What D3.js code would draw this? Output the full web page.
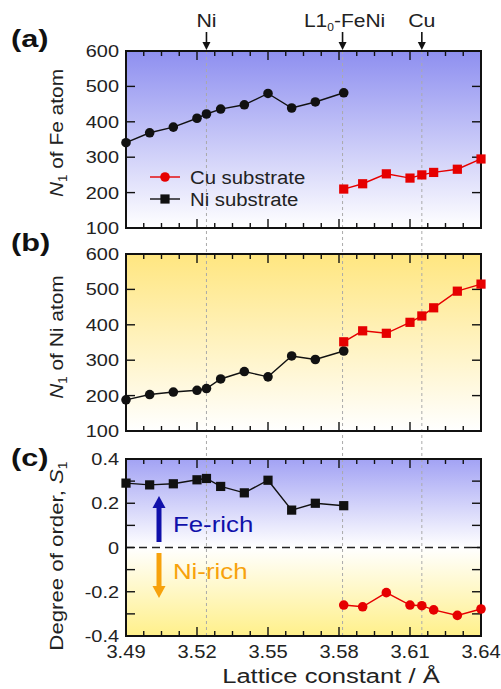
<!DOCTYPE html>
<html>
<head>
<meta charset="utf-8">
<script src="https://cdn.jsdelivr.net/npm/d3@7"></script>
<style>
  body { margin: 0; background: #fff; }
  text { font-family: "Liberation Sans", Arial, sans-serif; fill: #222; }
</style>
</head>
<body>
<div id="chart"></div>
<script>
var width = 501,
    height = 689,
    left = 126,
    right = 481

// lattice constants (Å)
var niSubX = [3.49, 3.50, 3.51, 3.52, 3.524, 3.53, 3.54, 3.55, 3.56, 3.57, 3.582]
var cuSubX = [3.582, 3.59, 3.60, 3.61, 3.615, 3.62, 3.63, 3.64]

// N1 of Fe atom
var niSubFe = [341, 369, 385, 410, 422, 436, 448, 480, 439, 456, 482]
var cuSubFe = [210, 225, 253, 241, 250, 257, 266, 295]

// N1 of Ni atom
var niSubNi = [188, 203, 210, 215, 220, 247, 268, 253, 312, 302, 326]
var cuSubNi = [352, 383, 376, 407, 425, 448, 495, 515]

// degree of order S1
var niSubS = [0.291, 0.283, 0.288, 0.306, 0.312, 0.276, 0.247, 0.304, 0.169, 0.200, 0.189]
var cuSubS = [-0.260, -0.268, -0.204, -0.260, -0.263, -0.282, -0.307, -0.278]

var xTicks = [3.49, 3.52, 3.55, 3.58, 3.61, 3.64]
var refNames = ['Ni', 'L1', 'Cu']
var refX = [3.524, 3.5815, 3.615]

var x = d3.scaleLinear().domain([3.49, 3.64]).range([left, right])

var svg = d3.select('#chart').append('svg')
    .attr('width', width)
    .attr('height', height)

var defs = svg.append('defs')

// the figure's lettering is a little wider than Arial, so stretch it
function stext(parent, px, py, size, sx, rot) {
    return parent.append('text')
        .attr('transform', 'translate(' + px + ',' + py + ')' + (rot ? ' rotate(' + rot + ')' : '') + ' scale(' + sx + ',1)')
        .attr('font-size', size)
}

function gradient(id, stops) {
    var g = defs.append('linearGradient')
        .attr('id', id)
        .attr('x1', 0).attr('y1', 0).attr('x2', 0).attr('y2', 1)
    stops.forEach(function(s) {
        g.append('stop').attr('offset', s[0]).attr('stop-color', s[1])
    })
}
gradient('gBlue', [[0, '#8e8ff0'], [1, '#ffffff']])
gradient('gYellow', [[0, '#ffe680'], [1, '#ffffff']])
gradient('gBoth', [[0, '#a2a2f4'], [0.5, '#ffffff'], [1, '#fff08a']])

var panels = [
    { key: 'a', top: 51, domain: [100, 600], ticks: d3.range(100, 601, 100), minor: [],
      fill: 'url(#gBlue)', label: ' of Fe atom', sym: 'N', labelY: 47, labCy: 133, labSx: 1.1,
      series: [
          { xs: niSubX, ys: niSubFe, color: '#111', shape: 'circle' },
          { xs: cuSubX, ys: cuSubFe, color: '#e60000', shape: 'square' }
      ] },
    { key: 'b', top: 254, domain: [100, 600], ticks: d3.range(100, 601, 100), minor: [],
      fill: 'url(#gYellow)', label: ' of Ni atom', sym: 'N', labelY: 251, labCy: 337, labSx: 1.1,
      series: [
          { xs: niSubX, ys: niSubNi, color: '#111', shape: 'circle' },
          { xs: cuSubX, ys: cuSubNi, color: '#e60000', shape: 'square' }
      ] },
    { key: 'c', top: 459, domain: [-0.4, 0.4], ticks: [-0.4, -0.2, 0, 0.2, 0.4], minor: [-0.3, -0.1, 0.1, 0.3],
      fill: 'url(#gBoth)', label: 'Degree of order, ', sym: 'S', labelY: 466, labCy: 556, labSx: 1.17,
      series: [
          { xs: niSubX, ys: niSubS, color: '#111', shape: 'square' },
          { xs: cuSubX, ys: cuSubS, color: '#e60000', shape: 'circle' }
      ] }
]
var ph = 177

panels.forEach(function(p) {
    svg.append('rect')
        .attr('x', left).attr('y', p.top)
        .attr('width', right - left).attr('height', ph)
        .attr('fill', p.fill)
})

svg.selectAll('line.ref').data(refX).enter().append('line')
    .attr('class', 'ref')
    .attr('x1', function(d) { return x(d) }).attr('x2', function(d) { return x(d) })
    .attr('y1', 51).attr('y2', 459 + ph)
    .attr('stroke', '#aaa')
    .attr('stroke-width', 1)
    .attr('stroke-dasharray', '3,3')

var line = d3.line()

panels.forEach(function(p) {
    var y = d3.scaleLinear().domain(p.domain).range([p.top + ph, p.top])
    var g = svg.append('g')

    if (p.key === 'c') {
        g.append('line')
            .attr('x1', left).attr('x2', right)
            .attr('y1', y(0)).attr('y2', y(0))
            .attr('stroke', '#222').attr('stroke-width', 1.3)
            .attr('stroke-dasharray', '8,5')
    }

    // ticks on all four sides, pointing inward
    var xMinor = d3.range(0, 21).map(function(i) { return 3.49 + i * 0.0075 })
    xMinor.forEach(function(v, i) {
        var len = i % 4 === 0 ? 9 : 5
        g.append('line').attr('x1', x(v)).attr('x2', x(v))
            .attr('y1', p.top + ph).attr('y2', p.top + ph - len)
            .attr('stroke', '#111').attr('stroke-width', 1.4)
        g.append('line').attr('x1', x(v)).attr('x2', x(v))
            .attr('y1', p.top).attr('y2', p.top + len)
            .attr('stroke', '#111').attr('stroke-width', 1.4)
    })
    p.ticks.concat(p.minor).forEach(function(v) {
        var len = 9
        g.append('line').attr('x1', left).attr('x2', left + len)
            .attr('y1', y(v)).attr('y2', y(v))
            .attr('stroke', '#111').attr('stroke-width', 1.4)
        g.append('line').attr('x1', right).attr('x2', right - len)
            .attr('y1', y(v)).attr('y2', y(v))
            .attr('stroke', '#111').attr('stroke-width', 1.4)
    })

    p.ticks.forEach(function(d) {
        stext(g, 119, y(d) + 6, 17, 1.17)
            .attr('text-anchor', 'end')
            .text(p.key === 'c' ? (d === 0 ? '0' : d3.format('.1f')(d).replace('\u2212', '-')) : d)
    })

    g.append('rect')
        .attr('x', left).attr('y', p.top)
        .attr('width', right - left).attr('height', ph)
        .attr('fill', 'none').attr('stroke', '#111').attr('stroke-width', 2)

    // panel letter
    stext(g, 11, p.labelY, 24, 1.28)
        .attr('font-weight', 'bold')
        .style('fill', '#111')
        .text('(' + p.key + ')')

    // y axis label
    var lab = stext(g, 63, p.labCy, 19, p.labSx, -90)
        .attr('text-anchor', 'middle')
    if (p.key === 'c') {
        lab.append('tspan').text(p.label)
        lab.append('tspan').attr('font-style', 'italic').text(p.sym)
        lab.append('tspan').attr('font-size', 12).attr('dy', 4).text('1')
    } else {
        lab.append('tspan').attr('font-style', 'italic').text(p.sym)
        lab.append('tspan').attr('font-size', 12).attr('dy', 4).text('1')
        lab.append('tspan').attr('dy', -4).text(p.label)
    }

    // data
    p.series.forEach(function(s) {
        var pts = s.xs.map(function(d, i) { return [x(d), y(s.ys[i])] })
        g.append('path')
            .attr('d', line(pts))
            .attr('fill', 'none')
            .attr('stroke', s.color)
            .attr('stroke-width', 1.4)
        if (s.shape === 'circle') {
            g.selectAll(null).data(pts).enter().append('circle')
                .attr('cx', function(d) { return d[0] })
                .attr('cy', function(d) { return d[1] })
                .attr('r', 4.8)
                .attr('fill', s.color)
        } else {
            g.selectAll(null).data(pts).enter().append('rect')
                .attr('x', function(d) { return d[0] - 4.6 })
                .attr('y', function(d) { return d[1] - 4.6 })
                .attr('width', 9.2).attr('height', 9.2)
                .attr('fill', s.color)
        }
    })
})

// x tick labels under bottom panel
xTicks.forEach(function(d) {
    stext(svg, x(d), 658, 18, 1.12)
        .attr('text-anchor', 'middle')
        .text(d3.format('.2f')(d))
})

stext(svg, 331, 683, 20, 1.28)
    .attr('text-anchor', 'middle')
    .text('Lattice constant / \u00c5')

// reference markers on top
refX.forEach(function(v, i) {
    if (refNames[i] === 'L1') {
        var t = stext(svg, x(v) + 2, 27, 17.5, 1.2).attr('text-anchor', 'middle')
        t.append('tspan').text('L1')
        t.append('tspan').attr('font-size', 10).attr('dy', 4).text('0')
        t.append('tspan').attr('dy', -4).text('-FeNi')
    } else {
        stext(svg, x(v), 27, 17.5, 1.22).attr('text-anchor', 'middle').text(refNames[i])
    }
    svg.append('line')
        .attr('x1', x(v)).attr('x2', x(v))
        .attr('y1', 32).attr('y2', 45)
        .attr('stroke', '#111').attr('stroke-width', 1.6)
    svg.append('path')
        .attr('d', 'M' + (x(v) - 4) + ',42 L' + (x(v) + 4) + ',42 L' + x(v) + ',50 Z')
        .attr('fill', '#111')
})

// legend in panel (a)
var legend = [
    { name: 'Cu substrate', color: '#e60000', shape: 'circle', y: 177 },
    { name: 'Ni substrate', color: '#111', shape: 'square', y: 199 }
]
legend.forEach(function(l) {
    svg.append('line')
        .attr('x1', 150).attr('x2', 180)
        .attr('y1', l.y).attr('y2', l.y)
        .attr('stroke', l.color).attr('stroke-width', 1.4)
    if (l.shape === 'circle') {
        svg.append('circle').attr('cx', 165).attr('cy', l.y).attr('r', 4.8).attr('fill', l.color)
    } else {
        svg.append('rect').attr('x', 160.4).attr('y', l.y - 4.6).attr('width', 9.2).attr('height', 9.2).attr('fill', l.color)
    }
    stext(svg, 190, l.y + 6.5, 18, 1.13).text(l.name)
})

// Fe-rich / Ni-rich arrows in panel (c)
var arrows = [
    { label: 'Fe-rich', color: '#1010aa', y1: 542, y2: 496, ty: 532 },
    { label: 'Ni-rich', color: '#f7a20c', y1: 553, y2: 598, ty: 579 }
]
arrows.forEach(function(a) {
    var dir = a.y2 < a.y1 ? 1 : -1
    svg.append('line')
        .attr('x1', 159).attr('x2', 159)
        .attr('y1', a.y1).attr('y2', a.y2 + dir * 10)
        .attr('stroke', a.color).attr('stroke-width', 5)
    svg.append('path')
        .attr('d', 'M152.5,' + (a.y2 + dir * 12) + ' L165.5,' + (a.y2 + dir * 12) + ' L159,' + a.y2 + ' Z')
        .attr('fill', a.color)
    stext(svg, 173, a.ty, 21.5, 1.2)
        .style('fill', a.color)
        .text(a.label)
})
</script>
</body>
</html>
